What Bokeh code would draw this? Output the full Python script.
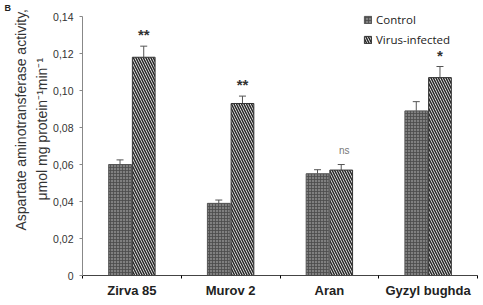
import math
from bokeh.plotting import figure
from bokeh.models import (ColumnDataSource, FixedTicker, Whisker, Legend, LegendItem, Title, Range1d)
from bokeh.core.properties import value
from bokeh.embed import file_html
from bokeh.resources import INLINE

cultivars = ["Zirva 85", "Murov 2", "Aran", "Gyzyl bughda"]
control = [0.060, 0.039, 0.055, 0.089]
control_err = [0.0025, 0.0018, 0.0022, 0.005]
infected = [0.118, 0.093, 0.057, 0.107]
infected_err = [0.006, 0.004, 0.003, 0.006]
signif = ["**", "**", "ns", "*"]
y_ticks = [0, 0.02, 0.04, 0.06, 0.08, 0.10, 0.12, 0.14]
y_tick_labels = ["0", "0,02", "0,04", "0,06", "0,08", "0,10", "0,12", "0,14"]
y_title = ["Aspartate aminotransferase activity,", "μmol mg protein⁻¹min⁻¹"]
panel_letter = "B"

n = len(cultivars)
centers = [i + 0.5 for i in range(n)]
off = 0.12
bw = 0.23
y_top = 0.1422

p = figure(width=483, height=305, output_backend="svg", toolbar_location=None,
           x_range=Range1d(0, n), y_range=Range1d(0, y_top),
           min_border_left=82, min_border_right=6, min_border_top=0, min_border_bottom=30)
p.outline_line_color = None
p.xgrid.grid_line_color = None
p.ygrid.grid_line_color = None

src_c = ColumnDataSource(dict(x=[c - off for c in centers], top=control,
                              up=[v + e for v, e in zip(control, control_err)]))
src_v = ColumnDataSource(dict(x=[c + off for c in centers], top=infected,
                              up=[v + e for v, e in zip(infected, infected_err)]))

rc = p.vbar(x="x", top="top", width=bw, source=src_c, fill_color="#808080",
            line_color="#555555", line_width=1, hatch_pattern="+", hatch_color="#4a4a4a",
            hatch_scale=3, hatch_weight=0.8)
rv = p.vbar(x="x", top="top", width=bw, source=src_v, fill_color="white",
            line_color="#333333", line_width=1, hatch_pattern="\\", hatch_color="#2a2a2a",
            hatch_scale=5, hatch_weight=1.6)

for s in (src_c, src_v):
    w = Whisker(source=s, base="x", lower="top", upper="up", line_color="#555555",
                line_width=1)
    w.upper_head.size = 7
    w.upper_head.line_color = "#555555"
    w.lower_head = None
    p.add_layout(w)

ann_x = [c + off for c in centers]
ann_y = [u + 0.0015 for u in src_v.data["up"]]
star_idx = [i for i, s in enumerate(signif) if s != "ns"]
ns_idx = [i for i, s in enumerate(signif) if s == "ns"]
p.text(x=[ann_x[i] for i in star_idx], y=[ann_y[i] for i in star_idx],
       text=[signif[i] for i in star_idx], text_align="center",
       text_baseline="bottom", text_font_size="15px", text_font_style="bold",
       text_color="#333333", text_font=value("Liberation Sans"))
p.text(x=[ann_x[i] + 0.03 for i in ns_idx], y=[ann_y[i] + 0.003 for i in ns_idx],
       text=[signif[i] for i in ns_idx], text_align="center",
       text_baseline="bottom", text_font_size="10px",
       text_color="#777777", text_font=value("Liberation Sans"))

# axes
p.xaxis.ticker = FixedTicker(ticks=centers, minor_ticks=list(range(n + 1)))
p.xaxis.major_label_overrides = {c: name for c, name in zip(centers, cultivars)}
p.xaxis.major_tick_out = 0
p.xaxis.major_tick_in = 0
p.xaxis.minor_tick_out = 3
p.xaxis.minor_tick_in = 0
p.xaxis.major_label_text_font = "Liberation Sans"
p.xaxis.major_label_text_font_size = "13px"
p.xaxis.major_label_text_font_style = "bold"
p.xaxis.major_label_text_color = "#222222"
p.xaxis.major_label_standoff = 4
p.xaxis.axis_line_color = "#444444"

p.yaxis.ticker = FixedTicker(ticks=y_ticks, minor_ticks=[])
p.yaxis.bounds = (y_ticks[0], y_ticks[-1])
p.yaxis.major_label_overrides = {t: l for t, l in zip(y_ticks, y_tick_labels)}
p.yaxis.major_tick_out = 3
p.yaxis.major_tick_in = 0
p.yaxis.major_label_text_font = "Liberation Sans"
p.yaxis.major_label_text_font_size = "10.5px"
p.yaxis.major_label_text_color = "#333333"
p.yaxis.major_label_standoff = 6
p.yaxis.axis_line_color = "#888888"
p.yaxis.major_tick_line_color = "#888888"

# y title: two lines as left-panel titles (closest to the axis first)
p.add_layout(Title(text=y_title[1], align="left", offset=75, standoff=2,
                   text_font="Liberation Sans", text_font_size="14px",
                   text_font_style="normal", text_color="#333333"), "left")
p.add_layout(Title(text=y_title[0], align="left", offset=45, standoff=4,
                   text_font="Liberation Sans", text_font_size="14px",
                   text_font_style="normal", text_color="#333333"), "left")

legend = Legend(items=[LegendItem(label="Control", renderers=[rc]),
                       LegendItem(label="Virus-infected", renderers=[rv])],
                location=(281, 228), background_fill_alpha=0, border_line_color=None,
                label_text_font="Open Sans", label_text_font_size="11.5px",
                label_text_color="#222222", glyph_width=9, glyph_height=9,
                spacing=5, padding=0, margin=0, label_standoff=4, label_height=14)
p.add_layout(legend)

p.add_layout(Title(text=panel_letter, align="left", offset=-78, standoff=0,
                   text_line_height=0.6, vertical_align="bottom",
                   text_font="Liberation Sans", text_font_size="9px",
                   text_font_style="bold", text_color="#222222"), "above")

open("out.html", "w").write(file_html(p, INLINE))
